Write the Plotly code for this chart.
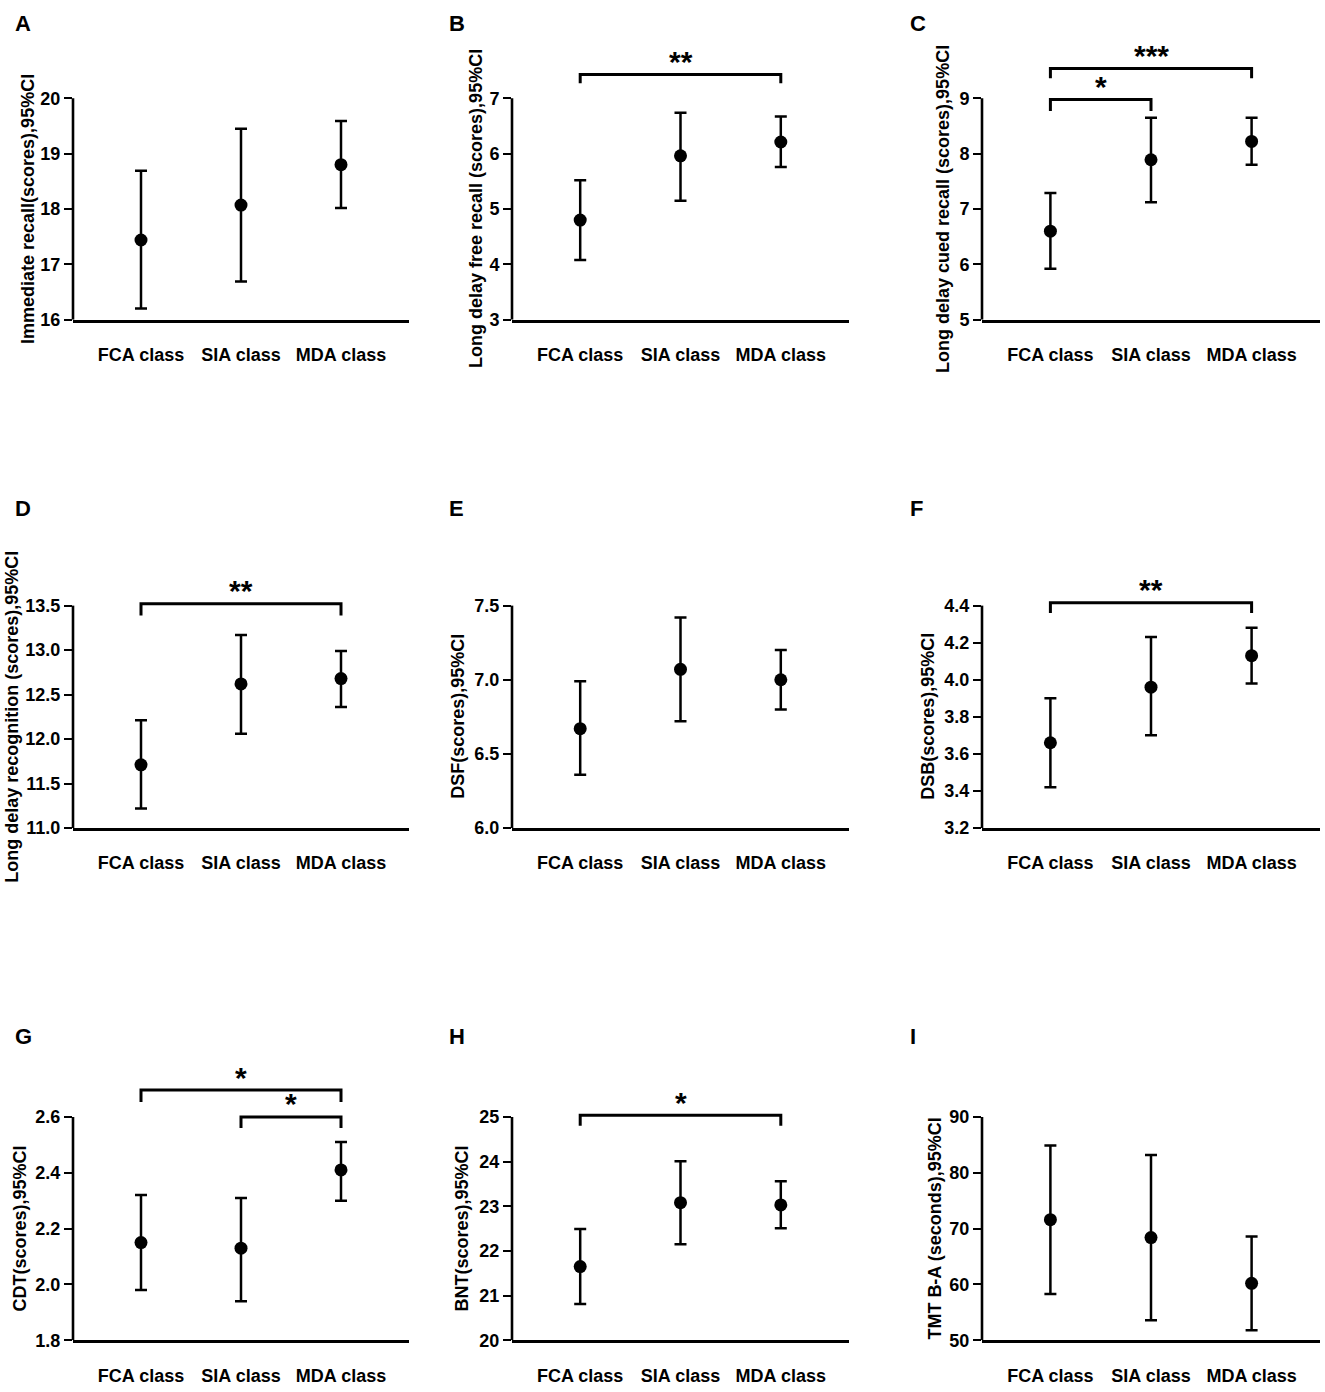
import plotly.graph_objects as go

W, H = 1325, 1392

categories = ["FCA class", "SIA class", "MDA class"]
panel_letters = ["A", "B", "C", "D", "E", "F", "G", "H", "I"]
y_titles = [
    "Immediate recall(scores),95%CI",
    "Long delay free recall (scores),95%CI",
    "Long delay cued recall (scores),95%CI",
    "Long delay recognition (scores),95%CI",
    "DSF(scores),95%CI",
    "DSB(scores),95%CI",
    "CDT(scores),95%CI",
    "BNT(scores),95%CI",
    "TMT B-A (seconds),95%CI",
]

# means and 95% CI bounds (FCA, SIA, MDA)
mean_A = [17.44, 18.07, 18.80]; low_A = [16.20, 16.69, 18.02]; up_A = [18.69, 19.45, 19.59]
mean_B = [4.80, 5.96, 6.21];    low_B = [4.08, 5.15, 5.76];    up_B = [5.52, 6.74, 6.67]
mean_C = [6.60, 7.89, 8.22];    low_C = [5.92, 7.12, 7.80];    up_C = [7.29, 8.65, 8.65]
mean_D = [11.71, 12.62, 12.68]; low_D = [11.22, 12.06, 12.36]; up_D = [12.21, 13.17, 12.99]
mean_E = [6.67, 7.07, 7.00];    low_E = [6.36, 6.72, 6.80];    up_E = [6.99, 7.42, 7.20]
mean_F = [3.66, 3.96, 4.13];    low_F = [3.42, 3.70, 3.98];    up_F = [3.90, 4.23, 4.28]
mean_G = [2.15, 2.13, 2.41];    low_G = [1.98, 1.94, 2.30];    up_G = [2.32, 2.31, 2.51]
mean_H = [21.65, 23.08, 23.03]; low_H = [20.81, 22.15, 22.51]; up_H = [22.49, 24.01, 23.56]
mean_I = [71.6, 68.4, 60.2];    low_I = [58.3, 53.6, 51.8];    up_I = [84.9, 83.2, 68.6]

ticks_A = [16, 17, 18, 19, 20]
ticks_B = [3, 4, 5, 6, 7]
ticks_C = [5, 6, 7, 8, 9]
ticks_D = [11.0, 11.5, 12.0, 12.5, 13.0, 13.5]
ticks_E = [6.0, 6.5, 7.0, 7.5]
ticks_F = [3.2, 3.4, 3.6, 3.8, 4.0, 4.2, 4.4]
ticks_G = [1.8, 2.0, 2.2, 2.4, 2.6]
ticks_H = [20, 21, 22, 23, 24, 25]
ticks_I = [50, 60, 70, 80, 90]

# significance brackets: panel index, from category, to category, bar level, end level, label
sig_panel = [1, 2, 2, 3, 5, 6, 6, 7]
sig_from = [0, 0, 0, 0, 0, 0, 1, 0]
sig_to = [2, 2, 1, 2, 2, 2, 2, 2]
sig_bar = [7.43, 9.54, 8.98, 13.52, 4.415, 2.696, 2.600, 25.04]
sig_end = [7.27, 9.36, 8.77, 13.39, 4.360, 2.653, 2.560, 24.80]
sig_label = ["**", "***", "*", "**", "**", "*", "*", "*"]

means = [mean_A, mean_B, mean_C, mean_D, mean_E, mean_F, mean_G, mean_H, mean_I]
lows = [low_A, low_B, low_C, low_D, low_E, low_F, low_G, low_H, low_I]
ups = [up_A, up_B, up_C, up_D, up_E, up_F, up_G, up_H, up_I]
ticks = [ticks_A, ticks_B, ticks_C, ticks_D, ticks_E, ticks_F, ticks_G, ticks_H, ticks_I]
fmts = ["d", "d", "d", ".1f", ".1f", ".1f", ".1f", "d", "d"]

# layout geometry (pixels)
cols_px = [(73, 409), (512, 849), (982, 1320)]
rows_px = [(322, 99), (834, 610), (1350, 1125)]
headroom = 70
title_x_px = [28, 476, 943, 12, 458, 928, 20, 462, 935]
letter_x_px = [13, 447, 908]
letter_y_px = [24, 512, 1044]

FONT = "Liberation Sans, Arial, sans-serif"
BOLD = dict(family=FONT, color="black", weight="bold")

fig = go.Figure()
layout = dict(
    width=W, height=H, margin=dict(l=0, r=0, t=0, b=0),
    paper_bgcolor="white", plot_bgcolor="white", showlegend=False,
    annotations=[], shapes=[],
)

for k in range(9):
    r, c = divmod(k, 3)
    x0p, x1p = cols_px[c]
    bot, top = rows_px[r]
    tv = ticks[k]
    ymin, ymax = tv[0], tv[-1]
    ppu = (bot - top) / (ymax - ymin)
    yr = [ymin, ymax + headroom / ppu]
    sfx = "" if k == 0 else str(k + 1)
    xname, yname = "xaxis" + sfx, "yaxis" + sfx
    xref, yref = "x" + sfx, "y" + sfx
    layout[xname] = dict(
        domain=[x0p / W, x1p / W], anchor=yref,
        type="category", categoryorder="array", categoryarray=categories,
        range=[-0.68, 2.68], showgrid=False, zeroline=False,
        showline=True, linecolor="black", linewidth=2.6,
        ticks="outside", ticklen=17, tickcolor="rgba(0,0,0,0)",
        tickfont=dict(size=18, **BOLD), fixedrange=True,
    )
    layout[yname] = dict(
        domain=[1 - (bot) / H, 1 - (top - headroom) / H], anchor=xref,
        range=yr, tickvals=tv, tickformat=fmts[k],
        showgrid=False, zeroline=False, showline=False,
        ticks="outside", ticklen=8, tickwidth=2.4, tickcolor="black",
        tickfont=dict(size=18, **BOLD), fixedrange=True,
    )
    # left axis line up to top tick
    layout["shapes"].append(dict(
        type="line", xref=xref + " domain", yref=yref, x0=0, x1=0,
        y0=ymin, y1=ymax, line=dict(color="black", width=2.6),
    ))
    m, lo, up = means[k], lows[k], ups[k]
    fig.add_trace(go.Scatter(
        x=categories, y=m, mode="markers", xaxis=xref, yaxis=yref,
        marker=dict(size=13, color="black"),
        error_y=dict(type="data", symmetric=False,
                     array=[u - v for u, v in zip(up, m)],
                     arrayminus=[v - l for v, l in zip(m, lo)],
                     color="black", thickness=2.5, width=6),
        cliponaxis=False,
    ))
    # y title
    layout["annotations"].append(dict(
        text=y_titles[k], xref="paper", yref="paper",
        x=title_x_px[k] / W, y=1 - ((bot + top) / 2) / H,
        xanchor="center", yanchor="middle", textangle=-90, showarrow=False,
        font=dict(size=18, **BOLD),
    ))
    # panel letter
    layout["annotations"].append(dict(
        text=panel_letters[k], xref="paper", yref="paper",
        x=letter_x_px[c] / W, y=1 - letter_y_px[r] / H,
        xanchor="left", yanchor="middle", showarrow=False,
        font=dict(size=22, **BOLD),
    ))

for p, a, b, yb, ye, lab in zip(sig_panel, sig_from, sig_to, sig_bar, sig_end, sig_label):
    sfx = "" if p == 0 else str(p + 1)
    xref, yref = "x" + sfx, "y" + sfx
    fig.add_trace(go.Scatter(
        x=[categories[a], categories[a], categories[b], categories[b]],
        y=[ye, yb, yb, ye], mode="lines", xaxis=xref, yaxis=yref,
        line=dict(color="black", width=3), hoverinfo="skip",
    ))
    layout["annotations"].append(dict(
        text=lab, xref=xref, yref=yref,
        x=(a + b) / 2, y=yb, xanchor="center", yanchor="middle",
        yshift=13, showarrow=False, font=dict(size=30, **BOLD),
    ))

fig.update_layout(**layout)
fig.write_html("out.html", config={"displayModeBar": False},
               post_script="document.body.style.margin='0';document.body.style.overflow='hidden';")
